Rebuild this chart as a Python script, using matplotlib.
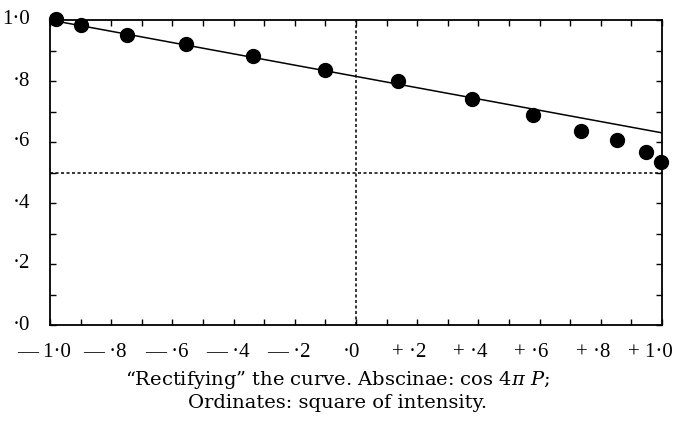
import matplotlib
matplotlib.use("Agg")
import matplotlib.pyplot as plt
import matplotlib.transforms as mtransforms
import numpy as np

# Data
x_points = [-0.981, -0.899, -0.749, -0.557, -0.338, -0.101,
            0.136, 0.380, 0.580, 0.734, 0.854, 0.947, 0.997]
y_points = [1.003, 0.984, 0.951, 0.920, 0.883, 0.835,
            0.801, 0.740, 0.689, 0.636, 0.607, 0.566, 0.535]
line_x = [-1.0, 1.0]
line_y = [1.0, 0.63]
half_level = 0.5
zero_x = 0.0

x_ticks = [-1.0, -0.8, -0.6, -0.4, -0.2, 0.0, 0.2, 0.4, 0.6, 0.8, 1.0]
x_labels = ["— 1·0", "— ·8", "— ·6", "— ·4", "— ·2", "·0",
            "+ ·2", "+ ·4", "+ ·6", "+ ·8", "+ 1·0"]
y_ticks = [0.0, 0.2, 0.4, 0.6, 0.8, 1.0]
y_labels = ["·0", "·2", "·4", "·6", "·8", "1·0"]

plt.rcParams['font.family'] = ['Liberation Serif', 'DejaVu Serif']
plt.rcParams['mathtext.fontset'] = 'dejavuserif'

fig = plt.figure(figsize=(6.75, 4.32), dpi=100)
ax = fig.add_axes([50/675, 1-325/432, (662-50)/675, (325-20)/432])

ax.plot(line_x, line_y, color='black', lw=1.1, zorder=3)
ax.plot(x_points, y_points, 'o', color='black', markersize=10, zorder=4, clip_on=False)
ax.axhline(half_level, color='black', lw=1.1, linestyle=(0, (2, 1.6)))
ax.axvline(zero_x, color='black', lw=1.1, linestyle=(0, (2, 1.6)))

ax.set_xlim(-1.0, 1.0)
ax.set_ylim(0.0, 1.0)
ax.set_xticks(np.round(np.arange(-1.0, 1.01, 0.1), 2))
ax.set_xticklabels([""] * 21)
ax.set_yticks(np.round(np.arange(0.0, 1.01, 0.1), 2))
ax.set_yticklabels([""] * 11)
ax.tick_params(direction='in', length=4, width=1.0, top=True, right=True)
for s in ax.spines.values():
    s.set_linewidth(1.3)

for xv, lab in zip(x_ticks, x_labels):
    shift = -6 if xv < 0 else (-8 if xv > 0 else -5)
    if xv == 1.0:
        shift = -12
    tr = ax.transData + mtransforms.ScaledTranslation(shift/100, 0, fig.dpi_scale_trans)
    ax.text(xv, -0.09, lab, ha='center', va='center', fontsize=15,
            transform=tr, clip_on=False)
for yv, lab in zip(y_ticks, y_labels):
    ax.text(-0.032, yv, lab, ha='right', va='center', fontsize=15,
            transform=ax.get_yaxis_transform(), clip_on=False)

fig.text(0.5, 1-380/432, "“Rectifying” the curve. Abscinae: cos 4$\\pi$ $P$;",
         ha='center', va='center', fontsize=14, family='DejaVu Serif')
fig.text(0.5, 1-403/432, "Ordinates: square of intensity.",
         ha='center', va='center', fontsize=14, family='DejaVu Serif')

fig.savefig("out.png", dpi=100)
